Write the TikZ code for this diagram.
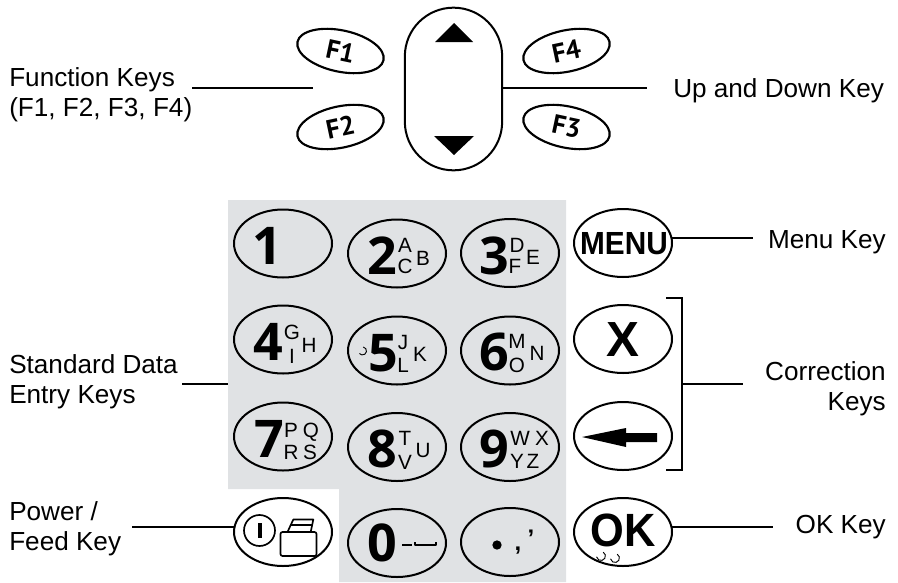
\documentclass[tikz,border=0pt]{standalone}
\usepackage{fontspec}
\setmainfont{Liberation Sans}
\newfontfamily\digitfont{Open Sans}
\newfontfamily\fkeyfont{PT Sans}
\usetikzlibrary{shapes.geometric}
\definecolor{padgray}{HTML}{E0E2E4}
\tikzset{
  x=0.75pt,y=-0.75pt,
  keyoval/.style={draw=black,line width=1.5pt,ellipse,inner sep=0pt,outer sep=0pt,minimum width=73.5pt,minimum height=51pt},
  fkey/.style={draw=black,line width=1.6pt,ellipse,inner sep=0pt,outer sep=0pt,minimum width=66pt,minimum height=31pt,font=\fkeyfont\bfseries\fontsize{20}{20}\selectfont},
  updown/.style={draw=black,line width=1.5pt,rectangle,rounded corners=36.5pt,inner sep=0pt,outer sep=0pt,minimum width=73pt,minimum height=122pt},
  digit/.style={inner sep=0pt,font=\digitfont\bfseries\fontsize{39}{39}\selectfont,text height=28pt,text depth=0pt},
  subl/.style={inner sep=0pt,font=\fontsize{15.5}{15.5}\selectfont,text height=11pt,text depth=0pt},
  boldkey/.style={inner sep=0pt,font=\bfseries\fontsize{#1}{#1}\selectfont},
  lbl/.style={inner sep=0pt,font=\fontsize{19.6}{22.5}\selectfont},
  conn/.style={draw=black,line width=1.1pt},
  thinmark/.style={draw=black,line width=0.7pt},
  sym/.style={draw=black,line width=1.25pt,line join=round},
}
\begin{document}
\begin{tikzpicture}
\useasboundingbox (0,0) rectangle (898,582);
% gray pad
\fill[padgray] (228,200) -- (566,200) -- (566,582) -- (339,582) -- (339,489) -- (228,489) -- cycle;

% up / down group
\node[updown] (ud) at (453.5,89) {};
\fill[black] (454,23) -- (473,42) -- (435,42) -- cycle;
\fill[black] (434,136) -- (474,136) -- (454,155) -- cycle;
\node[fkey,rotate=-12] (f1) at (340.5,51) {F1};
\node[fkey,rotate=12] (f2) at (340.5,127) {F2};
\node[fkey,rotate=12] (f4) at (566.5,51) {F4};
\node[fkey,rotate=-12] (f3) at (566.5,127) {F3};

% keypad ovals
\foreach \n/\x/\y in {1/283/243.5,2/397/253.5,3/510/253,4/283/339.5,5/397/350.5,6/510/350.5,7/283/436.5,8/397/447,9/510/447,P/283/532,0/397/543,D/510/542,M/623/243,X/623/339,B/623/436,O/623/532}
  \node[keyoval] (key\n) at (\x,\y) {};

% digits
\foreach \n/\x/\y in {1/267/246,2/382/256,3/494/256,4/268/342,5/383/352.5,6/494/352,7/269/439,8/382/449,9/494/449,0/382/543}
  \node[digit] (dig\n) at (\x,\y) {\n};

% sub letters
\foreach \t/\x/\y in {A/405/245,C/405/266,B/423/258,D/517/245,F/515/266,E/533/257,G/292/332,I/292/356,H/309/345,J/403/342,L/403/365,K/420/354,M/517/341,O/517/365,N/537/353,P/291/430,Q/311/430,R/291/452,S/310/452,T/405/438,V/405/462,U/423/450,W/520/438,X/542/438,Y/517/461,Z/533/461}
  \node[subl] (sub\t) at (\x,\y) {\t};

% small marks
\draw[thinmark] (363.2,347) arc (-80:140:4);
\draw[thinmark] (603.2,552.1) arc (-60:170:4.5);
\draw[thinmark] (617.2,554.1) arc (-60:170:4.5);

% zero key symbols
\draw[sym] (402,545) -- (412,545);
\draw[sym] (415,542) -- (415,545) -- (436,545) -- (436,542);
\node[circle,fill=black,inner sep=0pt,minimum size=7pt] (dotmark) at (497,545) {};
\node[inner sep=0pt,font=\bfseries\fontsize{18}{18}\selectfont] (commamark) at (518,551) {,};
\node[inner sep=0pt,font=\bfseries\fontsize{18}{18}\selectfont] (apos) at (531,538) {'};

% right column keys
\node[boldkey=24,xscale=.93] (menut) at (624,244) {MENU};
\node[boldkey=37] (xt) at (623,340) {X};
\fill[black] (582,437) -- (626,428) -- (626,433) -- (657,433) -- (657,442) -- (626,442) -- (626,447) -- cycle;
\node[boldkey=35,xscale=.93] (okt) at (623,530) {OK};

% power key
\draw[line width=1.25pt] (259.5,530.5) circle (15.5);
\fill[black] (257.5,523) rectangle (261.5,538);
\draw[sym,rounded corners=1.5pt] (280.5,532) rectangle (316.5,556);
\draw[sym] (287.5,532) -- (293.3,519.5) -- (313.3,519.5) -- (310.7,532);
\draw[line width=1.2pt] (291,525) -- (311.5,525);

% labels
\node[lbl,anchor=base west] (tFa) at (9,86) {Function Keys};
\node[lbl,anchor=base west] (tFb) at (9,116) {(F1, F2, F3, F4)};
\node[lbl,anchor=base west] (tUD) at (673,97) {Up and Down Key};
\node[lbl,anchor=base east] (tMenu) at (886,248) {Menu Key};
\node[lbl,anchor=base east] (tCa) at (886,380) {Correction};
\node[lbl,anchor=base east] (tCb) at (886,410) {Keys};
\node[lbl,anchor=base east] (tOK) at (886,533) {OK Key};
\node[lbl,anchor=base west] (tSa) at (9,373) {Standard Data};
\node[lbl,anchor=base west] (tSb) at (9,403) {Entry Keys};
\node[lbl,anchor=base west] (tPa) at (9,520) {Power /};
\node[lbl,anchor=base west] (tPb) at (9,550) {Feed Key};

% connectors
\coordinate (fkStart) at (192,88);
\coordinate (fkEnd) at (313,88);
\coordinate (udEnd) at (647,88);
\coordinate (menuEnd) at (753,238);
\coordinate (okEnd) at (773,526);
\coordinate (sdStart) at (182,384);
\coordinate (sdEnd) at (228,384);
\coordinate (pwStart) at (132,527);
\coordinate (brTopL) at (666,298);
\coordinate (brTopR) at (682,298);
\coordinate (brBotR) at (682,470);
\coordinate (brBotL) at (666,470);
\coordinate (brMid) at (682,384);
\coordinate (brEnd) at (743,384);
\path[conn] (fkStart) -- (fkEnd);
\path[conn] (ud.east |- udEnd) -- (udEnd);
\path[conn] (keyM.6) -- (keyM.6 -| menuEnd);
\path[conn] (keyO.6) -- (keyO.6 -| okEnd);
\path[conn] (sdStart) -- (sdEnd);
\path[conn] (pwStart) -- (pwStart -| keyP.west);
\path[conn] (brTopL) -- (brTopR) -- (brBotR) -- (brBotL);
\path[conn] (brMid) -- (brEnd);
\end{tikzpicture}
\end{document}
